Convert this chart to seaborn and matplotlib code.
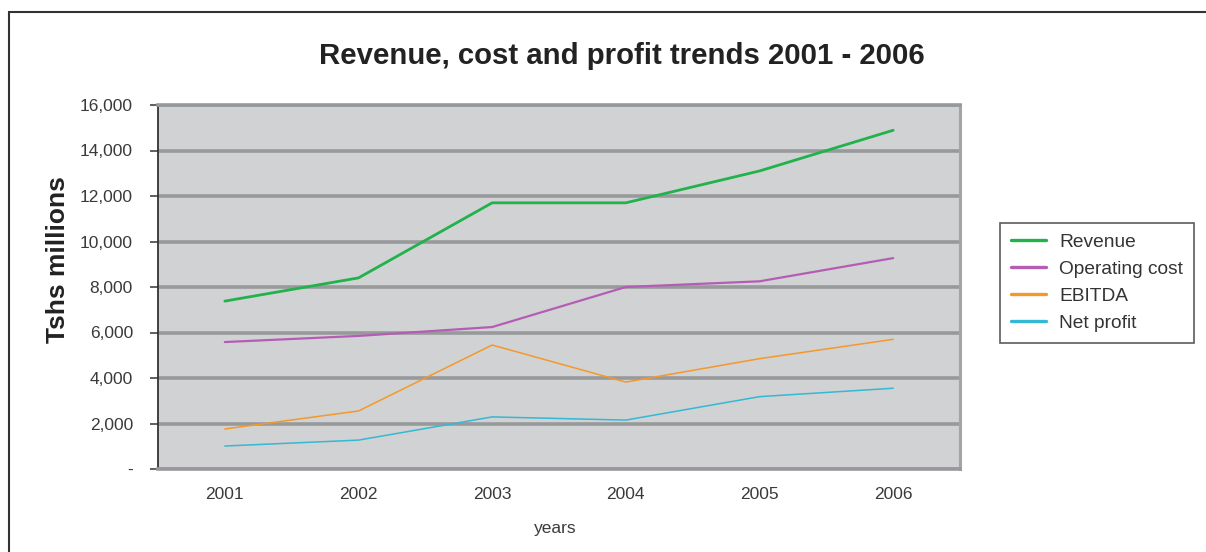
import matplotlib
matplotlib.use("Agg")
import matplotlib.pyplot as plt
import seaborn as sns
import pandas as pd
from matplotlib.patches import Rectangle
from matplotlib.ticker import FixedLocator, FuncFormatter

years = ["2001", "2002", "2003", "2004", "2005", "2006"]
revenue = [7380, 8400, 11700, 11700, 13100, 14890]
operating_cost = [5580, 5850, 6240, 8000, 8250, 9270]
ebitda = [1760, 2550, 5450, 3820, 4850, 5700]
net_profit = [1010, 1270, 2290, 2150, 3180, 3550]
y_ticks = [0, 2000, 4000, 6000, 8000, 10000, 12000, 14000, 16000]

series = [
    ("Revenue", revenue, "#22b24c", 2.0),
    ("Operating cost", operating_cost, "#b55db4", 1.6),
    ("EBITDA", ebitda, "#f5982a", 1.1),
    ("Net profit", net_profit, "#35b8d3", 1.1),
]

sns.set_theme(style="white")
plt.rcParams["font.family"] = ["Liberation Sans", "DejaVu Sans"]

fig = plt.figure(figsize=(12.06, 5.52), dpi=100)
ax = fig.add_axes([158 / 1206, 1 - 469 / 552, (960 - 158) / 1206, (469 - 105) / 552])
ax.set_facecolor("#d1d2d4")

for name, vals, color, lw in series:
    df = pd.DataFrame({"year": years, "value": vals})
    sns.lineplot(data=df, x="year", y="value", ax=ax, color=color,
                 linewidth=lw, label=name, sort=False)

ax.set_xlim(-0.5, len(years) - 0.5)
ax.set_ylim(0, 16000)
ax.yaxis.set_major_locator(FixedLocator(y_ticks))
ax.yaxis.set_major_formatter(FuncFormatter(lambda v, p: "-" if v == 0 else f"{int(v):,}"))
ax.yaxis.grid(True, color="#98999b", linewidth=2.6)
ax.set_axisbelow(True)

ax.set_xticks(range(len(years)))
ax.set_xticklabels(years)
ax.set_xticks([i - 0.5 for i in range(len(years) + 1)], minor=True)
ax.tick_params(axis="x", which="major", length=0, pad=13, labelsize=12.5, labelcolor="#3a3a3a")
ax.tick_params(axis="x", which="minor", length=7, width=1.2, color="#444444", direction="out")
ax.tick_params(axis="y", which="major", length=6, width=1.2, color="#444444",
               direction="out", labelsize=12.5, labelcolor="#3a3a3a", pad=12, left=True)

for s in ["top", "bottom"]:
    ax.spines[s].set_color("#98999b")
    ax.spines[s].set_linewidth(2.6)
ax.spines["right"].set_color("#a3a4a6")
ax.spines["right"].set_linewidth(2.2)
ax.spines["left"].set_color("#333333")
ax.spines["left"].set_linewidth(1.3)

ax.set_xlabel("years", fontsize=12.5, color="#3a3a3a")
ax.xaxis.set_label_coords((555 - 158) / 802, -(521 - 469) / 364)
ax.set_ylabel("Tshs millions", fontsize=19, fontweight="bold", color="#222222")
ax.yaxis.set_label_coords((70 - 158) / 802, (469 - 260) / 364)
fig.text(622 / 1206, 1 - 56 / 552, "Revenue, cost and profit trends 2001 - 2006",
         ha="center", va="center", fontsize=21.2, fontweight="bold", color="#222222")

leg = ax.legend(loc="upper left", bbox_to_anchor=(1000 / 1206, 1 - 223 / 552),
                bbox_transform=fig.transFigure, borderaxespad=0, fancybox=False,
                frameon=True, fontsize=13.8, handlelength=1.85, handletextpad=0.7,
                labelspacing=0.5, borderpad=0.55)
leg.get_frame().set_edgecolor("#333333")
leg.get_frame().set_linewidth(1.2)
for t in leg.get_texts():
    t.set_color("#333333")
for h in leg.get_lines():
    h.set_linewidth(2.4)

fig.patches.append(Rectangle((9 / 1206, -0.1), 1.2, 1.1 - 12 / 552,
                             transform=fig.transFigure, fill=False,
                             edgecolor="#333333", linewidth=1.5, zorder=-1))

fig.savefig("out.png", dpi=100)
